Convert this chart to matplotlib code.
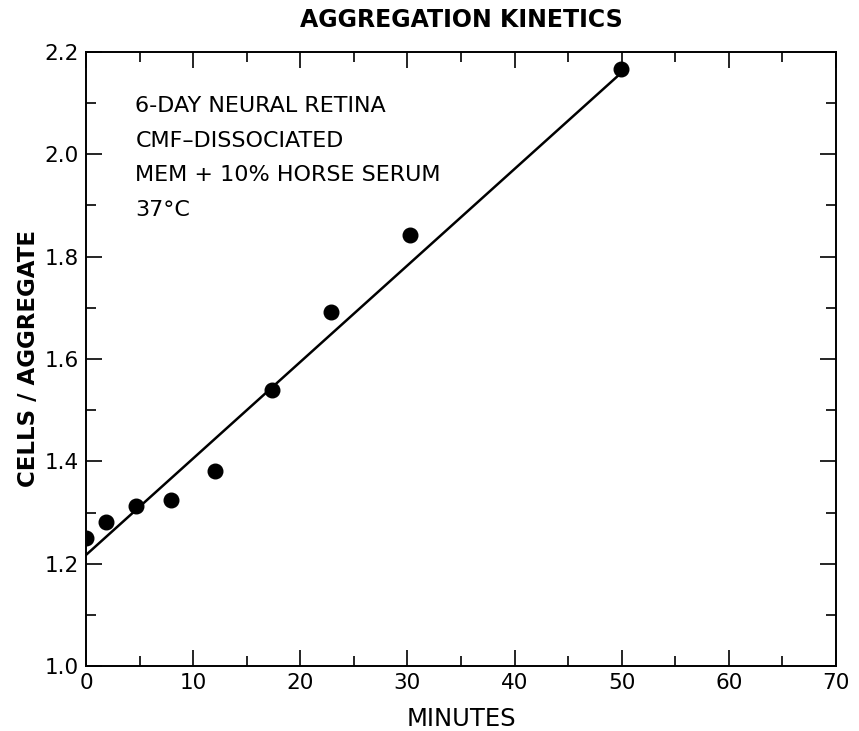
import numpy as np
import matplotlib
matplotlib.use("Agg")
import matplotlib.pyplot as plt
from matplotlib.ticker import MultipleLocator

# data
minutes = [0, 1.9, 4.7, 7.9, 12.0, 17.4, 22.9, 30.2, 49.9]
cells_per_aggregate = [1.250, 1.282, 1.313, 1.325, 1.382, 1.540, 1.692, 1.842, 2.166]

# fitted line as drawn
fit_x = [0, 50]
fit_y = [1.217, 2.160]

notes = ["6-DAY NEURAL RETINA", "CMF\u2013DISSOCIATED", "MEM + 10% HORSE SERUM", "37\u00b0C"]

plt.rcParams['font.family'] = ['DejaVu Sans']

fig = plt.figure(figsize=(8.59, 7.31), dpi=100)
ax = fig.add_axes([0.1001, 0.0889, 0.8731, 0.84])

ax.plot(fit_x, fit_y, color='black', lw=1.8, zorder=2)
ax.plot(minutes, cells_per_aggregate, 'o', color='black', markersize=10.5, zorder=3)

ax.set_xlim(0, 70)
ax.set_ylim(1.0, 2.2)
ax.xaxis.set_major_locator(MultipleLocator(10))
ax.xaxis.set_minor_locator(MultipleLocator(5))
ax.yaxis.set_major_locator(MultipleLocator(0.2))
ax.yaxis.set_minor_locator(MultipleLocator(0.1))
ax.yaxis.set_major_formatter(matplotlib.ticker.FormatStrFormatter('%.1f'))

ax.tick_params(which='both', direction='in', top=True, right=True, width=1.2, labelsize=15.5)
ax.tick_params(which='major', length=11.5, pad=5)
ax.tick_params(which='minor', length=7.5)
for s in ax.spines.values():
    s.set_linewidth(1.4)

ax.set_xlabel("MINUTES", fontsize=17.5, labelpad=10)
ax.set_ylabel("CELLS / AGGREGATE", fontsize=16.5, fontweight='bold', labelpad=3)
ax.set_title("AGGREGATION KINETICS", fontsize=17, fontweight='bold', pad=18)

for i, t in enumerate(notes):
    ax.text(0.066, 0.912 - i * 0.0565, t, transform=ax.transAxes, fontsize=16,
            va='center', ha='left')

fig.savefig("out.png", dpi=100)
